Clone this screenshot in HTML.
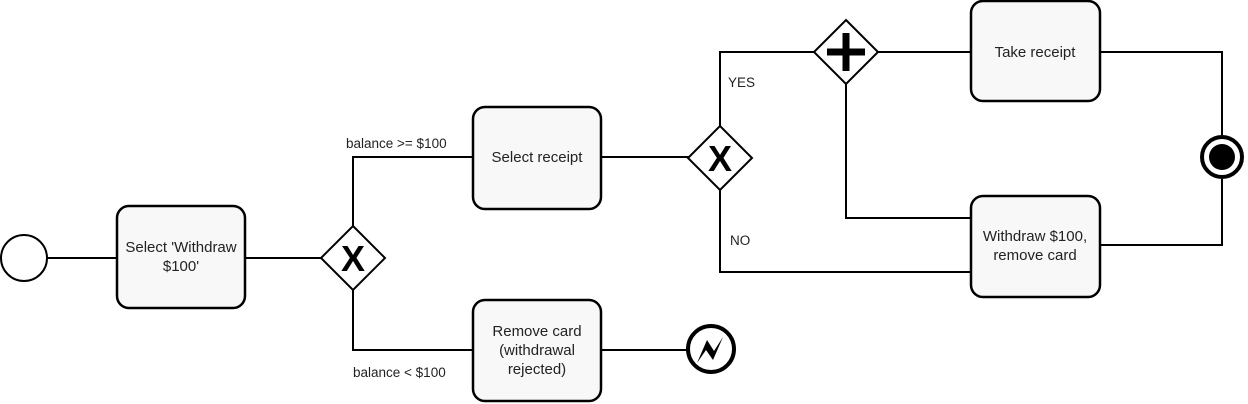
<!DOCTYPE html>
<html><head><style>body{margin:0;background:#fff}svg{display:block}</style></head><body>
<svg width="1248" height="404" xmlns="http://www.w3.org/2000/svg" font-family="Liberation Sans, sans-serif">
<g fill="none" stroke="#000" stroke-width="2">
<path d="M47 258H117M245 258H322M353 226V157H473M353 290V350H473M601 157H689M720 126V52H815M720 189V272H971M878 52H971M846 84V218H971M1099 52H1222V135M1099 245H1222V179M601 350H687"/>
</g>
<circle cx="24" cy="258" r="23" fill="#fff" stroke="#000" stroke-width="2"/>
<g fill="#f8f8f8" stroke="#000" stroke-width="2.5">
<rect x="117" y="206" width="128" height="102" rx="12"/>
<rect x="473" y="107" width="128" height="102" rx="12"/>
<rect x="473" y="300" width="128" height="101" rx="12"/>
<rect x="971" y="1" width="129" height="100" rx="12"/>
<rect x="971" y="196" width="129" height="101" rx="12"/>
</g>
<g fill="#fff" stroke="#000" stroke-width="2">
<polygon points="353,226 385,258 353,290 321,258"/>
<polygon points="720,126 752,158 720,190 688,158"/>
<polygon points="846,20 878,52 846,84 814,52"/>
</g>
<g font-size="36" font-weight="bold" text-anchor="middle">
<text x="353" y="271">X</text>
<text x="720" y="171">X</text>
</g>
<path d="M846 33V71M827 52H865" stroke="#000" stroke-width="7"/>
<circle cx="1222" cy="157" r="20" fill="#fff" stroke="#000" stroke-width="4"/>
<circle cx="1222" cy="157" r="13" fill="#000"/>
<circle cx="711" cy="349" r="23" fill="#fff" stroke="#000" stroke-width="4"/>
<polygon points="697,363 707,340 714,351 723,337 713,360 706,350" fill="#000"/>
<g font-size="15" text-anchor="middle" fill="#222">
<text x="181" y="252">Select 'Withdraw</text>
<text x="181" y="271">$100'</text>
<text x="537" y="162">Select receipt</text>
<text x="537" y="336">Remove card</text>
<text x="537" y="355">(withdrawal</text>
<text x="537" y="374">rejected)</text>
<text x="1035" y="57">Take receipt</text>
<text x="1035" y="241">Withdraw $100,</text>
<text x="1035" y="260">remove card</text>
</g>
<g font-size="13.5" fill="#222">
<text x="346" y="148">balance &gt;= $100</text>
<text x="353" y="377">balance &lt; $100</text>
<text x="728" y="87">YES</text>
<text x="730" y="245">NO</text>
</g>
</svg>
</body></html>
